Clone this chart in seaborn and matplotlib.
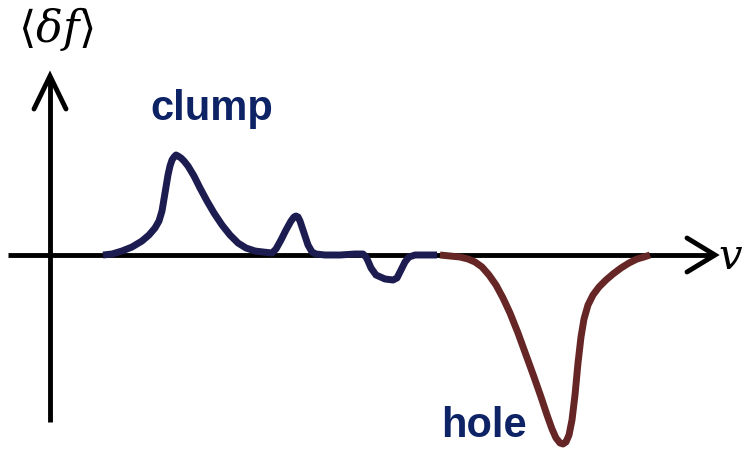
import matplotlib
matplotlib.use("Agg")
import matplotlib.pyplot as plt
import seaborn as sns
import pandas as pd

# Schematic data (v, <delta f>) (pixel-like units, axis at 0)
clump_v = [103, 112, 122, 132, 142, 149, 155, 159, 162, 164, 166, 168, 170, 172, 174, 176, 178, 181, 184, 188,
           194, 200, 207, 214, 222, 230, 238, 246, 255, 263, 272, 276, 281, 286, 291, 294, 296, 298, 300, 302,
           305, 308, 312, 316, 325, 340, 355, 363, 366, 368, 371, 376, 385, 393, 397, 401, 405, 409, 415, 425, 437]
clump_f = [0, 1, 4, 8, 14, 20, 27, 34, 44, 56, 68, 80, 89, 95, 98, 100, 99, 97, 94, 89,
           79, 67, 54, 42, 30, 20, 12, 7, 4, 3, 2, 6, 15, 25, 34, 38, 39, 38, 34, 28,
           19, 10, 3, 1, 0, 0, 1, 1, -2, -6, -13, -20, -24, -25, -23, -15, -7, -2, 0, 0, 0]
hole_v = [440, 450, 460, 468, 475, 482, 489, 496, 503, 510, 518, 526, 534, 541, 547, 552, 556, 560, 563, 566,
          569, 572, 575, 578, 581, 584, 588, 593, 599, 606, 613, 621, 629, 637, 644, 650]
hole_f = [0, -1, -2, -4, -7, -12, -20, -30, -43, -58, -78, -100, -122, -142, -160, -174, -183, -188, -189, -187,
          -180, -165, -140, -108, -82, -64, -50, -40, -32, -25, -19, -13, -8, -4, -2, 0]

label_clump = "clump"
label_hole = "hole"
x_label = r"$v$"
y_label = r"$\langle\delta f\rangle$"

navy = "#1c1c50"
brown = "#662626"
text_navy = "#0d2366"

sns.set_style("white")
plt.rcParams["mathtext.fontset"] = "dejavuserif"

fig = plt.figure(figsize=(7.44, 4.53), dpi=100)
ax = fig.add_axes([0, 0, 1, 1])

# axes with arrowheads
lw_axis = 3.5
ax.plot([8, 713], [0, 0], color="black", lw=lw_axis, solid_capstyle="butt", zorder=1)
ax.plot([687, 715, 687], [17, 0, -17], color="black", lw=lw_axis, solid_joinstyle="miter",
        solid_capstyle="round", zorder=1)
ax.plot([50, 50], [-167, 177], color="black", lw=lw_axis, solid_capstyle="butt", zorder=1)
ax.plot([34, 50, 66], [146, 179, 146], color="black", lw=lw_axis, solid_joinstyle="miter",
        solid_capstyle="round", zorder=1)

df_c = pd.DataFrame({"v": clump_v, "f": clump_f})
df_h = pd.DataFrame({"v": hole_v, "f": hole_f})
sns.lineplot(data=df_c, x="v", y="f", sort=False, estimator=None, color=navy, lw=5.0,
             solid_joinstyle="round", solid_capstyle="butt", ax=ax, zorder=2)
sns.lineplot(data=df_h, x="v", y="f", sort=False, estimator=None, color=brown, lw=5.0,
             solid_joinstyle="round", solid_capstyle="butt", ax=ax, zorder=2)
ax.set_xlim(0, 744)
ax.set_ylim(-198, 255)
ax.axis("off")

ax.text(212, 146, label_clump, color=text_navy, fontsize=30, fontweight="bold",
        family="Liberation Sans", ha="center", va="center")
ax.text(484, -171, label_hole, color=text_navy, fontsize=30, fontweight="bold",
        family="Liberation Sans", ha="center", va="center")
ax.text(56, 226, y_label, color="black", fontsize=32, ha="center", va="center")
ax.text(731, -2, x_label, color="black", fontsize=30, ha="center", va="center")

fig.savefig("out.png", dpi=100)
